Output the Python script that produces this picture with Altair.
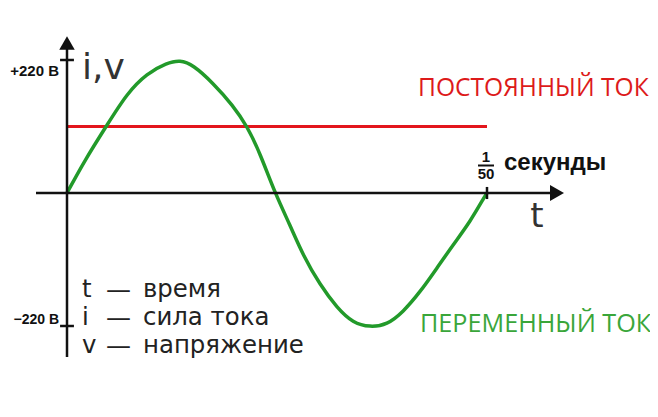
import altair as alt
import pandas as pd

# ---- data ----
t_ms = [0, 0.86, 1.9, 2.86, 3.81, 4.76, 5.38, 6.0, 6.95, 7.9, 8.57, 9.19, 9.9,
        10.62, 11.24, 12.05, 12.86, 13.62, 14.43, 15.24, 16.0, 16.81, 17.62,
        18.38, 19.19, 19.9, 20]
ac_v = [0, 55, 112, 165, 198, 215, 220, 212, 182, 145, 111, 66, 0,
        -53, -103, -152, -190, -215, -222, -218, -197, -164, -124,
        -86, -48, -5, 0]
dc_t = [0, 20]
dc_v = [110, 110]
amp_ticks = [220, -220]
amp_labels = ["+220 В", "−220 В"]
period_end = 20
legend_sym = ["t", "i", "v"]
legend_txt = ["время", "сила тока", "напряжение"]

OX, OY = 8, 8          # page position of the plot origin
W, H = 642, 401
K = 133 / 220  # px per volt
xs = alt.Scale(domain=[(OX - 67) / 21, (OX + W - 67) / 21], nice=False, zero=False)
ys = alt.Scale(domain=[-(OY + H - 193) / K, (193 - OY) / K], nice=False, zero=False)


def X(f):
    return alt.X(f, type="quantitative", scale=xs, axis=None)


def Y(f):
    return alt.Y(f, type="quantitative", scale=ys, axis=None)


def tx(p):  # page px -> time units
    return (p - 67) / 21


def vy(p):  # page px -> volt units
    return (193 - p) / K


ac = pd.DataFrame({"t": t_ms, "v": ac_v})
dc = pd.DataFrame({"t": dc_t, "v": dc_v})

# axes (drawn as marks on the same scales)
x_axis = alt.Chart(pd.DataFrame({"t": [tx(36)], "t2": [tx(553)], "v": [0]})).mark_rule(
    color="#111", strokeWidth=2.5).encode(x=X("t"), x2="t2", y=Y("v"))
x_arrow = alt.Chart(pd.DataFrame({"t": [tx(557)], "v": [0]})).mark_point(
    shape="triangle-right", filled=True, color="#111", size=260, opacity=1
).encode(x=X("t"), y=Y("v"))
y_axis = alt.Chart(pd.DataFrame({"t": [0], "v": [vy(357)], "v2": [vy(46)]})).mark_rule(
    color="#111", strokeWidth=2.5).encode(x=X("t"), y=Y("v"), y2="v2")
y_arrow = alt.Chart(pd.DataFrame({"t": [0], "v": [vy(43)]})).mark_point(
    shape="triangle-up", filled=True, color="#111", size=240, opacity=1
).encode(x=X("t"), y=Y("v"))
y_ticks = alt.Chart(pd.DataFrame({"t": [-0.33, -0.33], "t2": [0.33, 0.33],
                                  "v": amp_ticks})).mark_rule(
    color="#111", strokeWidth=2.5).encode(x=X("t"), x2="t2", y=Y("v"))
t_tick = alt.Chart(pd.DataFrame({"t": [period_end], "v": [-10], "v2": [10]})).mark_rule(
    color="#111", strokeWidth=2.5).encode(x=X("t"), y=Y("v"), y2="v2")

# series
dc_line = alt.Chart(dc).mark_line(color="#e3161c", strokeWidth=3).encode(
    x=X("t"), y=Y("v"))
ac_line = alt.Chart(ac).mark_line(color="#229a2a", strokeWidth=3.5,
                                  interpolate="basis").encode(
    x=X("t"), y=Y("v"))

base = alt.Chart(pd.DataFrame({"d": [0]}))


def txt(s, x, y, size, color="#222", font="DejaVu Sans", weight="normal",
        align="left"):
    return base.mark_text(text=s, fontSize=size, color=color, font=font,
                          fontWeight=weight, align=align,
                          baseline="middle").encode(x=alt.value(x - OX),
                                                    y=alt.value(y - OY))


labels = [
    txt(amp_labels[0], 59, 71, 15, color="#111", font="Liberation Sans",
        weight="bold", align="right"),
    txt(amp_labels[1], 59, 320, 14, color="#111", font="Liberation Sans",
        weight="bold", align="right"),
    txt("i,v", 82, 68, 36, color="#333"),
    txt("t", 537, 217, 34, color="#333", align="center"),
    txt("ПОСТОЯННЫЙ ТОК", 418, 89, 24.6, color="#dd1a1a", font="Open Sans"),
    txt("ПЕРЕМЕННЫЙ ТОК", 420, 324, 25.2, color="#3aa63a", font="Open Sans"),
    txt("1", 486, 157, 15, color="#111", font="Liberation Sans",
        weight="bold", align="center"),
    txt("50", 486, 174, 15, color="#111", font="Liberation Sans",
        weight="bold", align="center"),
    txt("секунды", 504, 163, 24, color="#111", font="Liberation Sans",
        weight="bold"),
]
frac_bar = base.mark_rule(color="#111", strokeWidth=2).encode(
    x=alt.value(478 - OX), x2=alt.value(494 - OX), y=alt.value(165.5 - OY))

leg_y = [290, 318, 346]
for s, w, yy in zip(legend_sym, legend_txt, leg_y):
    labels.append(txt(s, 82, yy, 24.4, color="#222"))
    labels.append(txt("—", 106, yy, 25, color="#222"))
    labels.append(txt(w, 143, yy, 24.4, color="#222"))

chart = alt.layer(
    dc_line, ac_line, x_axis, x_arrow, y_axis, y_arrow, y_ticks, t_tick,
    frac_bar, *labels
).properties(
    width=W, height=H, padding=0,
    autosize=alt.AutoSizeParams(type="none"),
    background="white"
).configure_view(strokeWidth=0)

chart.save("out.html", embed_options={"renderer": "svg", "actions": False})
